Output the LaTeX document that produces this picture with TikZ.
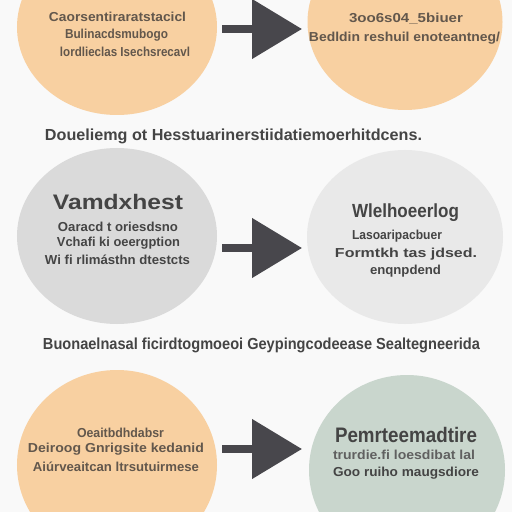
\documentclass[tikz,border=0pt]{standalone}
\usepackage{fontspec}
\setmainfont{Liberation Sans}
\usepackage{graphicx}
\usetikzlibrary{shapes.geometric,arrows.meta}
\definecolor{bgc}{HTML}{F9F9F9}
\definecolor{peach}{HTML}{F8D0A1}
\definecolor{greyL}{HTML}{DADADA}
\definecolor{greyR}{HTML}{E9E9E9}
\definecolor{sage}{HTML}{C9D6CD}
\definecolor{arrc}{HTML}{48474C}
\definecolor{txtA}{HTML}{62574C}
\definecolor{txtB}{HTML}{444444}
\newcommand{\fitw}[2]{\resizebox{#1}{\height}{#2}}
\tikzset{
  bubble/.style={ellipse, draw=none, inner sep=0pt, minimum width=200bp, minimum height=176bp},
  txtline/.style={inner sep=0pt, anchor=center, font=\fontsize{13bp}{15bp}\selectfont\bfseries},
  headtxt/.style={inner sep=0pt, anchor=center, font=\fontsize{21bp}{24bp}\selectfont\bfseries},
  captxt/.style={inner sep=0pt, anchor=center, text=txtB, font=\fontsize{16bp}{18bp}\selectfont\bfseries},
  flow/.style={draw=arrc, line width=8bp, -{Triangle[length=50bp,width=58bp]}}
}
\begin{document}
\begin{tikzpicture}[x=1bp,y=-1bp]
\fill[bgc] (0,0) rectangle (512,512);
\useasboundingbox (0,0) rectangle (512,512);
% bubbles
\node[bubble, fill=peach] (tl) at (117,27) {};
\node[bubble, fill=peach, minimum width=195bp] (tr) at (405,22) {};
\node[bubble, fill=greyL] (ml) at (117,236) {};
\node[bubble, fill=greyR, minimum width=196bp, minimum height=174bp] (mr) at (405,237) {};
\node[bubble, fill=peach, minimum height=190bp] (bl) at (117,465) {};
\node[bubble, fill=sage, minimum width=196bp, minimum height=190bp] (br) at (407,470) {};
% arrows
\coordinate (a1s) at (222,29); \coordinate (a1e) at (302,29);
\coordinate (a2s) at (222,248); \coordinate (a2e) at (302,248);
\coordinate (a3s) at (222,449); \coordinate (a3e) at (302,449);
\draw[flow] (a1s) -- (a1e);
\draw[flow] (a2s) -- (a2e);
\draw[flow] (a3s) -- (a3e);
% top-left text
\node[txtline, text=txtA] (tl1) at (117.5,17) {\fitw{137bp}{Caorsentiraratstacicl}};
\node[txtline, text=txtA] (tl2) at (116.5,35) {\fitw{103bp}{Bulinacdsmubogo}};
\node[txtline, text=txtA] (tl3) at (125,52) {\fitw{130bp}{lordlieclas Isechsrecavl}};
% top-right text
\node[txtline, text=txtA] (tr1) at (406,19) {\fitw{114bp}{3oo6s04\_5biuer}};
\node[txtline, text=txtA] (tr2) at (404.5,38) {\fitw{191bp}{Bedldin reshuil enoteantneg/}};
% caption 1
\node[captxt] (c1) at (233.5,136) {\fitw{377bp}{Doueliemg ot Hesstuarinerstiidatiemoerhitdcens.}};
% middle-left text
\node[headtxt, text=txtB] (mlh) at (118,202) {\fitw{130bp}{Vamdxhest}};
\node[txtline, text=txtB] (ml1) at (118,227) {\fitw{120bp}{Oaracd t oriesdsno}};
\node[txtline, text=txtB] (ml2) at (118.5,243) {\fitw{123bp}{Vchafi ki oeergption}};
\node[txtline, text=txtB] (ml3) at (117.5,260) {\fitw{145bp}{Wi fi rlimásthn dtestcts}};
% middle-right text
\node[headtxt, text=txtB, font=\fontsize{19bp}{22bp}\selectfont\bfseries] (mrh) at (405.5,213) {\fitw{107bp}{Wlelhoeerlog}};
\node[txtline, text=txtB] (mr1) at (397,236) {\fitw{90bp}{Lasoaripacbuer}};
\node[txtline, text=txtB] (mr2) at (406,254) {\fitw{142bp}{Formtkh tas jdsed.}};
\node[txtline, text=txtB] (mr3) at (405.5,271) {\fitw{71bp}{enqnpdend}};
% caption 2
\node[captxt] (c2) at (261.5,345) {\fitw{437bp}{Buonaelnasal ficirdtogmoeoi Geypingcodeease Sealtegneerida}};
% bottom-left text
\node[txtline, text=txtA] (bl1) at (120.5,433) {\fitw{87bp}{Oeaitbdhdabsr}};
\node[txtline, text=txtA] (bl2) at (116,449) {\fitw{176bp}{Deiroog Gnrigsite kedanid}};
\node[txtline, text=txtA] (bl3) at (116,467) {\fitw{166bp}{Aiúrveaitcan ltrsutuirmese}};
% bottom-right text
\node[headtxt, text=txtB] (brh) at (406,435) {\fitw{142bp}{Pemrteemadtire}};
\node[txtline, text=txtB!85] (br1) at (404,455) {\fitw{142bp}{trurdie.fi loesdibat lal}};
\node[txtline, text=txtB] (br2) at (406,473) {\fitw{146bp}{Goo ruiho maugsdiore}};
\end{tikzpicture}
\end{document}
